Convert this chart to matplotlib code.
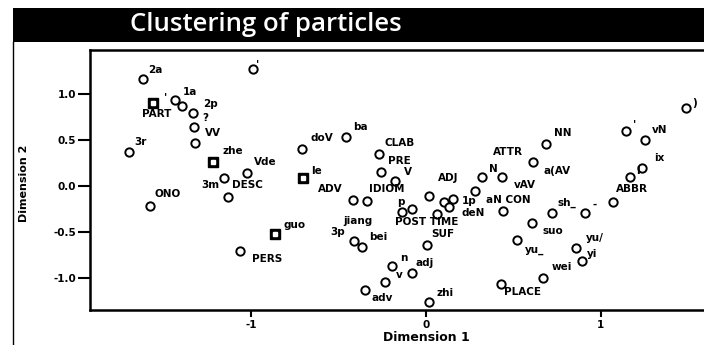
import matplotlib
matplotlib.use("Agg")
from matplotlib import pyplot as plt
from matplotlib.patches import Rectangle
from matplotlib.lines import Line2D

# object scores (open circles)
cx = [-1.617, -1.434, -1.394, -1.331, -1.326, -1.32, -1.697, -0.989, -1.154, -1.023,
      -1.577, -1.131, -1.063, -0.457, -0.709, -0.269, -0.257, -0.177, -0.417, -0.337,
      0.017, 0.103, 0.154, 0.131, -0.137, -0.08, 0.063, -0.411, -0.366, 0.006,
      -0.194, -0.08, -0.234, -0.349, 0.017, 1.486, 1.143, 1.251, 0.686, 0.611,
      0.32, 0.434, 1.234, 1.166, 0.28, 0.44, 0.72, 1.069, 0.909, 0.606,
      0.52, 0.857, 0.891, 0.669, 0.429]
cy = [1.163, 0.935, 0.87, 0.793, 0.641, 0.467, 0.37, 1.272, 0.087, 0.141,
      -0.217, -0.12, -0.707, 0.533, 0.402, 0.348, 0.152, 0.054, -0.152, -0.163,
      -0.109, -0.174, -0.141, -0.228, -0.283, -0.25, -0.304, -0.598, -0.663, -0.641,
      -0.87, -0.946, -1.043, -1.13, -1.261, 0.848, 0.598, 0.5, 0.457, 0.261,
      0.098, 0.098, 0.196, 0.098, -0.054, -0.272, -0.293, -0.174, -0.293, -0.402,
      -0.587, -0.674, -0.815, -1.0, -1.065]

# category points (boxed squares)
sx = [-1.56, -1.217, -0.703, -0.863]
sy = [0.902, 0.261, 0.087, -0.522]

labels = ["2a", "1a", "2p", "?", "VV", "PART", "'", "3r", "'", "zhe",
          "3m", "DESC", "Vde", "ONO", "PERS", "ba", "doV", "le", "ADV", "CLAB",
          "PRE", "V", "IDIOM", "ADJ", "p", "1p", "aN CON", "deN", "jiang", "POST TIME",
          "guo", "3p", "bei", "SUF", "n", "adj", "v", "adv", "zhi", ")",
          "'", "vN", "NN", "ATTR", "a(AV", "N", "vAV", "ix", "l", "ABBR",
          "sh_", "-", "suo", "yu_", "yu/", "yi", "wei", "PLACE"]
lx = [-1.549, -1.349, -1.234, -1.263, -1.217, -1.537, -1.491, -1.634, -0.96, -1.103,
      -1.234, -1.023, -0.92, -1.474, -0.909, -0.377, -0.594, -0.623, -0.549, -0.149,
      -0.154, -0.103, -0.223, 0.126, -0.143, 0.246, 0.469, 0.269, -0.389, 0.006,
      -0.749, -0.503, -0.274, 0.097, -0.126, -0.006, -0.154, -0.251, 0.109, 1.537,
      1.194, 1.337, 0.783, 0.469, 0.749, 0.383, 0.566, 1.337, 1.21, 1.177,
      0.806, 0.966, 0.726, 0.623, 0.966, 0.949, 0.777, 0.554]
ly = [1.261, 1.022, 0.891, 0.739, 0.576, 0.783, 0.967, 0.478, 1.326, 0.38,
      0.011, 0.011, 0.261, -0.087, -0.793, 0.641, 0.522, 0.163, -0.033, 0.467,
      0.272, 0.152, -0.033, 0.087, -0.174, -0.163, -0.152, -0.293, -0.38, -0.391,
      -0.424, -0.5, -0.554, -0.522, -0.783, -0.837, -0.967, -1.217, -1.163, 0.902,
      0.674, 0.609, 0.576, 0.37, 0.163, 0.185, 0.011, 0.304, 0.163, -0.033,
      -0.185, -0.207, -0.489, -0.696, -0.565, -0.739, -0.88, -1.152]

fig = plt.figure(figsize=(7.04, 3.45), dpi=100)

# title bar
fig.patches.append(Rectangle((0.018, 0.878), 0.982, 0.099, transform=fig.transFigure,
                             facecolor="black", edgecolor="none"))
fig.text(0.377, 0.93, "Clustering of particles", color="white", fontsize=18.5,
         family="Open Sans", fontweight="semibold", ha="center", va="center")
fig.lines.append(Line2D([0.018, 0.018], [0.0, 0.878], transform=fig.transFigure,
                        color="black", lw=1))

ax = fig.add_axes([0.128, 0.101, 0.872, 0.754])
ax.plot(cx, cy, "o", ms=6, mfc="white", mec="black", mew=1.4, ls="none")
ax.plot(sx, sy, "s", ms=7.5, mfc="black", mec="black", ls="none")
ax.plot(sx, sy, "s", ms=2.5, mfc="white", mec="white", ls="none")
for t, x, y in zip(labels, lx, ly):
    ax.text(x, y, t, fontsize=7.5, fontweight="bold", family="DejaVu Sans",
            ha="center", va="center")

ax.set_xlim(-1.92, 1.59)
ax.set_ylim(-1.35, 1.48)
ax.set_xticks([-1, 0, 1])
ax.set_xticklabels(["-1", "0", "1"])
ax.set_yticks([-1.0, -0.5, 0.0, 0.5, 1.0])
ax.set_yticklabels(["-1.0", "-0.5", "0.0", "0.5", "1.0"])
ax.tick_params(width=1.5, labelsize=7.5)
ax.tick_params(axis="y", length=9, pad=1)
ax.tick_params(axis="x", length=5, pad=2)
for lab in ax.get_xticklabels() + ax.get_yticklabels():
    lab.set_fontweight("bold")
ax.spines["right"].set_visible(False)
for s in ["left", "bottom", "top"]:
    ax.spines[s].set_linewidth(1.8)

fig.text(0.605, 0.012, "Dimension 1", fontsize=9, fontweight="bold", ha="center")
fig.text(0.034, 0.47, "Dimension 2", fontsize=8, fontweight="bold", rotation=90,
         ha="center", va="center", family="Liberation Sans Narrow")

fig.savefig("out.png", dpi=100)
